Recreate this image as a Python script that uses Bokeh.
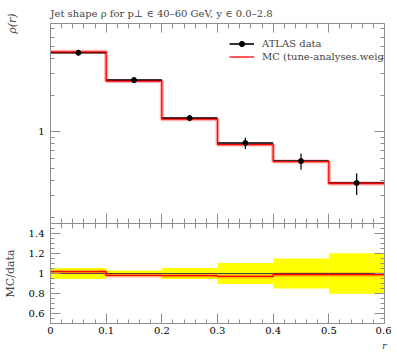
from bokeh.plotting import figure
from bokeh.layouts import column
from bokeh.models import (Range1d, LinearAxis, LogAxis, FixedTicker,
                          CustomJSTickFormatter, Legend, LegendItem)
from bokeh.embed import file_html
from bokeh.resources import INLINE

# ---- data ----
r_lo = [0.0, 0.1, 0.2, 0.3, 0.4, 0.5]
r_hi = [0.1, 0.2, 0.3, 0.4, 0.5, 0.6]
data = [4.46, 2.66, 1.297, 0.810, 0.576, 0.381]
data_err = [0.24, 0.08, 0.071, 0.085, 0.087, 0.077]
mc = [4.54, 2.61, 1.27, 0.786, 0.570, 0.377]

x_major_ticks = [0.0, 0.1, 0.2, 0.3, 0.4, 0.5, 0.6]
x_minor_ticks = [round(i * 0.02, 2) for i in range(31) if i % 5]
y_major_ticks = [1]
y_minor_ticks = [0.2, 0.3, 0.4, 0.5, 0.6, 0.7, 0.8, 0.9, 2, 3, 4, 5, 6, 7]
ratio_major_ticks = [0.6, 0.8, 1.0, 1.2, 1.4]
ratio_minor_ticks = [0.5, 0.55, 0.65, 0.7, 0.75, 0.85, 0.9, 0.95, 1.05, 1.1, 1.15,
                     1.25, 1.3, 1.35, 1.45, 1.5]

title_text = "Jet shape \u03c1 for p\u22a5 \u2208 40\u201360 GeV, y \u2208 0.0\u20132.8"

# ---- derived ----
centers = [(a + b) / 2 for a, b in zip(r_lo, r_hi)]
edges = r_lo + [r_hi[-1]]
mc_step = mc + [mc[-1]]
err_lo = [d - e for d, e in zip(data, data_err)]
err_hi = [d + e for d, e in zip(data, data_err)]
rel = [e / d for d, e in zip(data, data_err)]
band_lo = [1 - q for q in rel]
band_hi = [1 + q for q in rel]
ones = [d / d for d in data]
ratio = [m / d for m, d in zip(mc, data)]
ratio_step = ratio + [ratio[-1]]

FONT = "DejaVu Serif"
GREY = "#8e8e8e"
FW = 334

fmt_plain = CustomJSTickFormatter(code="return String(tick)")
fmt_none = CustomJSTickFormatter(code="return ''")


def xticker():
    return FixedTicker(ticks=x_major_ticks, minor_ticks=x_minor_ticks)


def style_axis(ax, major_in, minor_in, labels=True):
    ax.major_tick_in = major_in
    ax.major_tick_out = 0
    ax.minor_tick_in = minor_in
    ax.minor_tick_out = 0
    ax.axis_line_color = GREY
    ax.major_tick_line_color = GREY
    ax.minor_tick_line_color = GREY
    if labels:
        ax.major_label_text_font = FONT
        ax.major_label_text_font_size = "10px"
        ax.major_label_text_color = "black"
        ax.major_label_standoff = 6
    else:
        ax.formatter = fmt_none
        ax.major_label_text_font_size = "1px"
        ax.major_label_standoff = 0
    return ax


# ---------------- main panel ----------------
p1 = figure(frame_width=FW, frame_height=200, x_range=Range1d(0, 0.6),
            y_range=Range1d(0.177, 7.75), y_axis_type="log",
            x_axis_location=None, y_axis_location=None,
            output_backend="svg", toolbar_location=None,
            min_border_left=40, min_border_right=7, min_border_top=23, min_border_bottom=0)
p1.outline_line_color = None
p1.grid.grid_line_color = None
p1.title.text = title_text
p1.title.text_font = FONT
p1.title.text_font_size = "10px"
p1.title.text_font_style = "normal"
p1.title.align = "left"
p1.title.standoff = 9

ly = LogAxis(ticker=FixedTicker(ticks=y_major_ticks, minor_ticks=y_minor_ticks), formatter=fmt_plain,
             axis_label="\u03c1(r)", axis_label_standoff=16, axis_label_align="end",
             axis_label_text_font=FONT, axis_label_text_font_size="11px",
             axis_label_text_font_style="italic")
style_axis(ly, 10, 4)
p1.add_layout(ly, "left")
ry = LogAxis(ticker=FixedTicker(ticks=y_major_ticks, minor_ticks=y_minor_ticks))
style_axis(ry, 10, 4, labels=False)
p1.add_layout(ry, "right")
tx = LinearAxis(ticker=xticker())
style_axis(tx, 9, 5, labels=False)
p1.add_layout(tx, "above")
bx = LinearAxis(ticker=xticker())
style_axis(bx, 10, 5, labels=False)
bx.axis_line_color = None
p1.add_layout(bx, "below")

mc_halo = p1.step(edges, mc_step, mode="after", line_color="#ff0000", line_alpha=0.3, line_width=4)
dat_h = p1.segment(x0=r_lo, x1=r_hi, y0=data, y1=data, line_color="black", line_width=1.6)
mc_line = p1.step(edges, mc_step, mode="after", line_color="#ff0000", line_width=1.3)
dat_v = p1.segment(x0=centers, x1=centers, y0=err_lo, y1=err_hi, line_color="black", line_width=1.2)
dat_p = p1.scatter(centers, data, size=5, color="black")

legend = Legend(items=[LegendItem(label="ATLAS data", renderers=[dat_h, dat_p]),
                       LegendItem(label="MC (tune-analyses.weight", renderers=[mc_line])],
                location=(179, 160), padding=0, spacing=0, margin=0,
                glyph_width=25, glyph_height=13, label_height=13, label_standoff=8,
                label_text_font=FONT, label_text_font_size="10px",
                background_fill_alpha=0, border_line_color=None)
p1.add_layout(legend)

# ---------------- ratio panel ----------------
p2 = figure(frame_width=FW, frame_height=100, x_range=p1.x_range,
            y_range=Range1d(0.5, 1.5),
            x_axis_location=None, y_axis_location=None,
            output_backend="svg", toolbar_location=None,
            min_border_left=40, min_border_right=7, min_border_top=0, min_border_bottom=0)
p2.outline_line_color = None
p2.grid.grid_line_color = None

ly2 = LinearAxis(ticker=FixedTicker(ticks=ratio_major_ticks, minor_ticks=ratio_minor_ticks),
                 formatter=fmt_plain, axis_label="MC/data", axis_label_standoff=9,
                 axis_label_text_font=FONT, axis_label_text_font_size="11px",
                 axis_label_text_font_style="normal")
style_axis(ly2, 10, 4)
p2.add_layout(ly2, "left")
ry2 = LinearAxis(ticker=FixedTicker(ticks=ratio_major_ticks, minor_ticks=ratio_minor_ticks))
style_axis(ry2, 10, 4, labels=False)
p2.add_layout(ry2, "right")
tx2 = LinearAxis(ticker=xticker())
style_axis(tx2, 5, 5, labels=False)
p2.add_layout(tx2, "above")
bx2 = LinearAxis(ticker=xticker(), formatter=fmt_plain,
                 axis_label="r", axis_label_align="end", axis_label_standoff=3,
                 axis_label_text_font=FONT, axis_label_text_font_size="10px",
                 axis_label_text_font_style="italic")
style_axis(bx2, 10, 4)
bx2.major_label_standoff = 3
p2.add_layout(bx2, "below")

p2.quad(left=r_lo, right=r_hi, bottom=band_lo, top=band_hi, fill_color="#ffff00", line_color=None)
p2.step(edges, ones + [1], mode="after", line_color="#444444", line_width=1)
p2.step(edges, ratio_step, mode="after", line_color="#ff0000", line_alpha=0.3, line_width=4)
p2.step(edges, ratio_step, mode="after", line_color="#ff0000", line_width=1.3)

layout = column(p1, p2, spacing=0)
open("out.html", "w").write(file_html(layout, INLINE))
